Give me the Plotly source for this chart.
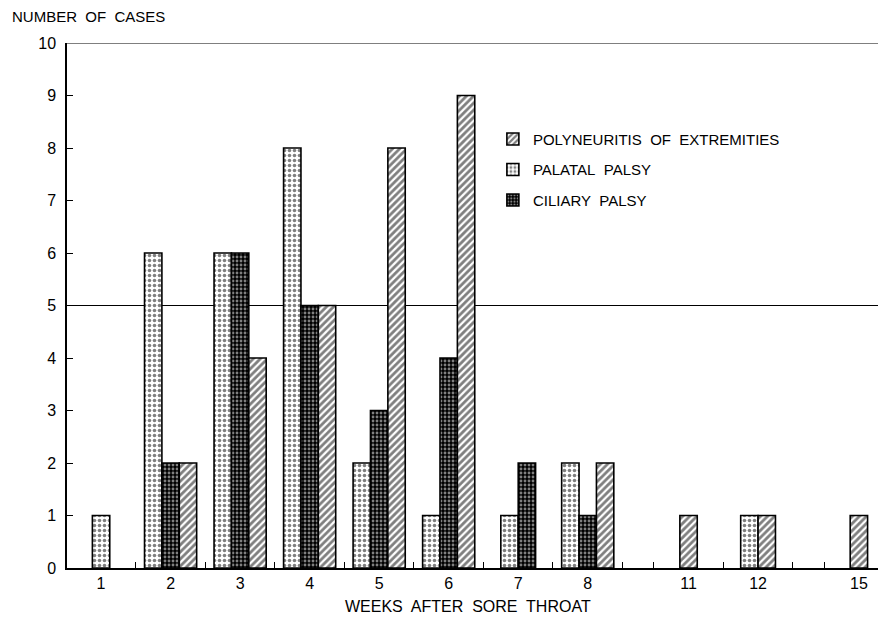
import plotly.graph_objects as go

# weeks after sore throat and number of cases per week
weeks = [1, 2, 3, 4, 5, 6, 7, 8, 11, 12, 15]
week_labels = [str(w) for w in weeks]
palatal = [1, 6, 6, 8, 2, 1, 1, 2, None, 1, None]
ciliary = [None, 2, 6, 5, 3, 4, 2, 1, None, None, None]
polyneuritis = [None, 2, 4, 5, 8, 9, None, 2, 1, 1, 1]

GAP = 0.45   # extra room where weeks are skipped (broken axis)
BW = 0.25    # bar width
FONT = "Liberation Sans"
SP = "\u00a0"

# position of each week on the broken axis, plus the small ticks between groups
pos, minor = [], []
for i, w in enumerate(weeks):
    if i == 0:
        pos.append(1.0)
        continue
    t = pos[-1] + 0.5
    minor.append(t)
    skip = w - weeks[i - 1] > 1
    if skip:
        minor.append(t + GAP)
    pos.append(pos[-1] + 1 + (GAP if skip else 0))

series = [
    ("PALATAL" + SP + " PALSY", palatal, dict(shape=".", fgcolor="black", bgcolor="white", size=5, solidity=0.4), 2),
    ("CILIARY" + SP + " PALSY", ciliary, dict(shape=".", fgcolor="white", bgcolor="black", size=4, solidity=0.4), 3),
    ("POLYNEURITIS" + SP + " OF" + SP + " EXTREMITIES", polyneuritis, dict(shape="/", fgcolor="black", bgcolor="white", size=5, solidity=0.55), 1),
]

# bars that exist in a week are centred together on the week label
offsets = {name: [] for name, *_ in series}
for i in range(len(weeks)):
    present = [name for name, vals, *_ in series if vals[i] is not None]
    n = len(present)
    for name, vals, *_ in series:
        if vals[i] is None:
            offsets[name].append(0)
        else:
            offsets[name].append((present.index(name) - n / 2) * BW)

fig = go.Figure()
for name, vals, pat, rank in series:
    fig.add_trace(go.Bar(
        x=pos, y=vals, name=name, width=BW, offset=offsets[name],
        marker=dict(color="white", pattern=pat, line=dict(color="black", width=1.6)),
        legendgroup=name, legendrank=rank,
    ))

fig.add_hline(y=5, line=dict(color="black", width=1), layer="below")
fig.add_hline(y=10, line=dict(color="black", width=1.2), layer="below")

# page body adds 8px of margin, so the figure is 8px smaller
fig.update_layout(
    width=878, height=609,
    margin=dict(l=59, r=0, t=35, b=49),
    plot_bgcolor="white", paper_bgcolor="white",
    barmode="overlay",
    font=dict(family=FONT, size=15, color="black"),
    showlegend=True,
    legend=dict(x=0.52, y=0.848, xanchor="left", yanchor="top",
                tracegroupgap=8, font=dict(size=15),
                bgcolor="rgba(0,0,0,0)"),
    xaxis=dict(
        range=[0.51, 12.29], showline=True, linecolor="black", linewidth=1.5,
        tickvals=pos, ticktext=week_labels, ticks="", showgrid=False, zeroline=False,
        tickfont=dict(size=16),
        minor=dict(tickvals=minor, ticks="inside", ticklen=6, tickcolor="black", showgrid=False),
    ),
    yaxis=dict(
        range=[0, 10], showline=True, linecolor="black", linewidth=1.5,
        dtick=1, ticks="inside", ticklen=6, tickcolor="black", tickfont=dict(size=16),
        showgrid=False, zeroline=False, ticklabelstandoff=6,
    ),
    annotations=[
        dict(text="NUMBER" + SP + " OF" + SP + " CASES", xref="paper", yref="paper",
             x=-0.07, y=1.05, xanchor="left", yanchor="middle", showarrow=False,
             font=dict(size=15)),
        dict(text="WEEKS" + SP + " AFTER" + SP + " SORE" + SP + " THROAT", xref="paper", yref="paper",
             x=0.49, y=-0.074, xanchor="center", yanchor="middle", showarrow=False,
             font=dict(size=16)),
    ],
)

fig.write_html("out.html")
